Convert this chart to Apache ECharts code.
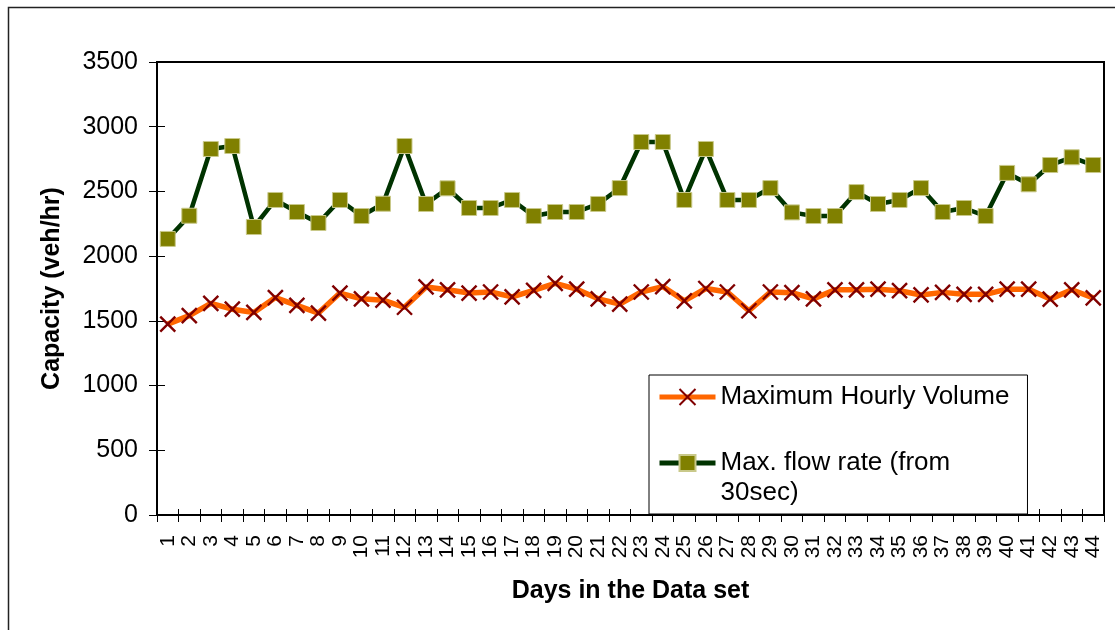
<!DOCTYPE html>
<html>
<head>
<meta charset="utf-8">
<script src="https://cdn.jsdelivr.net/npm/echarts@6/dist/echarts.min.js"></script>
<style>
html,body{margin:0;padding:0;background:#fff;}
#c{width:1115px;height:630px;}
</style>
</head>
<body>
<div id="c"></div>
<script>
const days = ['1','2','3','4','5','6','7','8','9','10','11','12','13','14','15','16','17','18','19','20','21','22','23','24','25','26','27','28','29','30','31','32','33','34','35','36','37','38','39','40','41','42','43','44'];
const hourlyVolume = [1475,1540,1635,1590,1565,1680,1620,1560,1715,1670,1660,1605,1762,1740,1715,1723,1685,1735,1790,1745,1670,1630,1723,1765,1655,1750,1723,1578,1723,1718,1670,1740,1740,1745,1733,1700,1720,1705,1705,1745,1745,1668,1740,1678];
const flowRate = [2133,2312,2828,2851,2225,2434,2341,2256,2434,2310,2405,2851,2403,2524,2372,2372,2434,2310,2341,2341,2403,2526,2882,2882,2434,2828,2434,2434,2526,2338,2310,2310,2495,2403,2434,2526,2341,2372,2310,2643,2555,2704,2764,2704];
const yTicks = {min:0, max:3500, interval:500};
const seriesNames = ['Maximum Hourly Volume', 'Max. flow rate (from\n30sec)'];

const FONT = 'Liberation Sans, Arial, sans-serif';
const chart = echarts.init(document.getElementById('c'), null, {renderer:'canvas'});
const crossPath = 'path://M0,0L10,10M10,0L0,10';

chart.setOption({
  animation:false,
  backgroundColor:'#fff',
  textStyle:{fontFamily:FONT, color:'#000'},
  graphic:[{
    type:'rect', shape:{x:8.5, y:7.5, width:1130, height:640},
    style:{fill:'none', stroke:'#222', lineWidth:1.5}, silent:true, z:-1
  }],
  grid:{left:157, top:62, right:11, bottom:115, show:true, borderColor:'#000', borderWidth:2, backgroundColor:'transparent'},
  legend:{
    orient:'vertical', left:649, top:375,
    padding:[7,18,6,8], itemGap:6, itemWidth:56, itemHeight:20,
    backgroundColor:'#fff', borderColor:'#000', borderWidth:1,
    textStyle:{fontFamily:FONT, fontSize:26, color:'#000', lineHeight:30},
    formatter:function(name){ return name === seriesNames[1] ? '\n' + name : name; },
    data:[
      {name:seriesNames[0], lineStyle:{color:'#FF6600', width:5}},
      {name:seriesNames[1], lineStyle:{color:'#003300', width:5}}
    ]
  },
  xAxis:[{
    type:'category', data:days, boundaryGap:true,
    name:'Days in the Data set', nameLocation:'middle', nameGap:64,
    nameTextStyle:{fontFamily:FONT, fontSize:25, fontWeight:'bold', color:'#000'},
    axisLine:{lineStyle:{color:'#000', width:2}},
    axisTick:{show:true, length:7, lineStyle:{color:'#000', width:1}, alignWithLabel:false},
    axisLabel:{rotate:90, interval:0, margin:20, fontSize:21, fontFamily:FONT, color:'#000'},
    splitLine:{show:false}
  },{
    type:'category', data:days, boundaryGap:true, position:'bottom',
    axisLine:{show:false},
    axisTick:{show:true, inside:true, length:6, lineStyle:{color:'#000', width:1}},
    axisLabel:{show:false}, splitLine:{show:false}
  }],
  yAxis:[{
    type:'value', min:yTicks.min, max:yTicks.max, interval:yTicks.interval,
    name:'Capacity (veh/hr)', nameLocation:'middle', nameGap:92, nameRotate:90,
    nameTextStyle:{fontFamily:FONT, fontSize:25, fontWeight:'bold', color:'#000'},
    axisLine:{show:true, lineStyle:{color:'#000', width:2}},
    axisTick:{show:true, length:8, lineStyle:{color:'#000', width:1}},
    axisLabel:{margin:19, fontSize:25, fontFamily:FONT, color:'#000', formatter:function(v){return String(v);}},
    splitLine:{show:false}
  },{
    type:'value', min:yTicks.min, max:yTicks.max, interval:yTicks.interval, position:'left',
    axisLine:{show:false},
    axisTick:{show:true, inside:true, length:8, lineStyle:{color:'#000', width:1}},
    axisLabel:{show:false}, splitLine:{show:false}
  }],
  series:[{
    name:seriesNames[0], type:'line', data:hourlyVolume,
    symbol:crossPath, symbolSize:15, showSymbol:true,
    lineStyle:{color:'#FF6600', width:5.5},
    itemStyle:{color:'#800000', borderColor:'#800000', borderWidth:2.4},
    z:3
  },{
    name:seriesNames[1], type:'line', data:flowRate,
    symbol:'rect', symbolSize:15, showSymbol:true,
    lineStyle:{color:'#003300', width:4.5},
    itemStyle:{color:'#808000', borderColor:'#c9c98a', borderWidth:1},
    z:3
  }]
});
</script>
</body>
</html>
